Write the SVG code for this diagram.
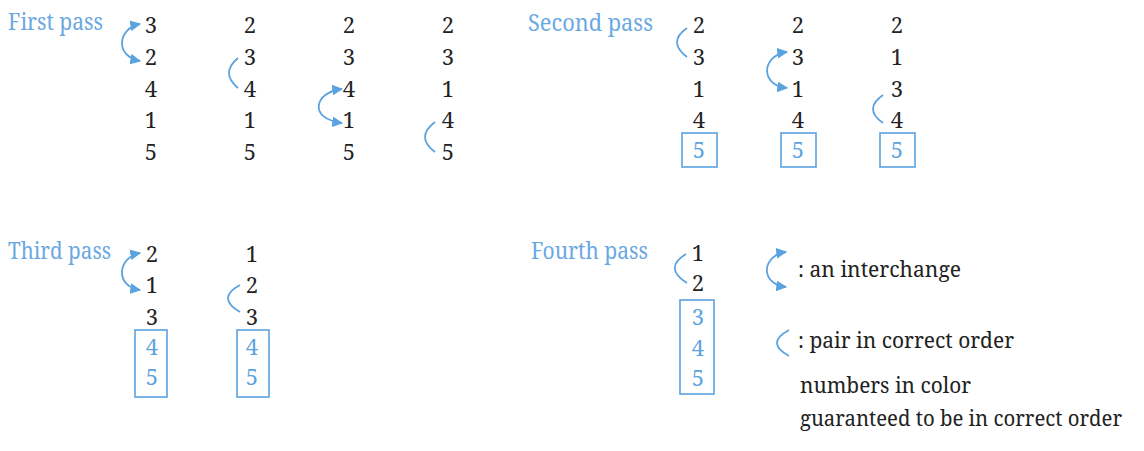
<svg xmlns="http://www.w3.org/2000/svg" width="1144" height="451" viewBox="0 0 1144 451">
<style>
text{font-family:"Noto Serif","DejaVu Serif",serif}
.lbl{font-size:23px;fill:#6aa8e2}
.d{font-size:22px;fill:#222;text-anchor:middle}
.db{font-size:22px;fill:#5aa2e0;text-anchor:middle}
.t{font-size:21.5px;fill:#222}
.box{fill:none;stroke:#5aa2e0;stroke-width:1.6}
.sw{fill:none;stroke:#5aa2e0;stroke-width:1.8;marker-start:url(#ah);marker-end:url(#ah)}
.pr{fill:none;stroke:#5aa2e0;stroke-width:1.8}
</style>
<defs>
<marker id="ah" viewBox="0 0 10 10" refX="9" refY="5" markerWidth="6" markerHeight="6" orient="auto-start-reverse" markerUnits="strokeWidth">
<path d="M0,0 L10,5 L0,10 z" fill="#5aa2e0"/>
</marker>
</defs>
<rect width="1144" height="451" fill="#fff"/>

<g id="first-pass">
<text class="lbl" x="8" y="30" textLength="95" lengthAdjust="spacingAndGlyphs">First pass</text>
<text class="d" x="151" y="33">3</text><text class="d" x="151" y="65">2</text><text class="d" x="151" y="97">4</text><text class="d" x="151" y="128">1</text><text class="d" x="151" y="160">5</text>
<text class="d" x="250" y="33">2</text><text class="d" x="250" y="65">3</text><text class="d" x="250" y="97">4</text><text class="d" x="250" y="128">1</text><text class="d" x="250" y="160">5</text>
<text class="d" x="349" y="33">2</text><text class="d" x="349" y="65">3</text><text class="d" x="349" y="97">4</text><text class="d" x="349" y="128">1</text><text class="d" x="349" y="160">5</text>
<text class="d" x="448" y="33">2</text><text class="d" x="448" y="65">3</text><text class="d" x="448" y="97">1</text><text class="d" x="448" y="128">4</text><text class="d" x="448" y="160">5</text>
</g>

<g id="second-pass">
<text class="lbl" x="528" y="31" textLength="125" lengthAdjust="spacingAndGlyphs">Second pass</text>
<text class="d" x="699" y="33">2</text><text class="d" x="699" y="65">3</text><text class="d" x="699" y="97">1</text><text class="d" x="699" y="128">4</text><text class="db" x="699" y="158">5</text>
<rect class="box" x="682" y="133" width="35" height="34"/>
<text class="d" x="798" y="33">2</text><text class="d" x="798" y="65">3</text><text class="d" x="798" y="97">1</text><text class="d" x="798" y="128">4</text><text class="db" x="798" y="158">5</text>
<rect class="box" x="781" y="133" width="35" height="34"/>
<text class="d" x="897" y="33">2</text><text class="d" x="897" y="65">1</text><text class="d" x="897" y="97">3</text><text class="d" x="897" y="128">4</text><text class="db" x="897" y="158">5</text>
<rect class="box" x="880" y="133" width="35" height="34"/>
</g>

<g id="third-pass">
<text class="lbl" x="8" y="259" textLength="103" lengthAdjust="spacingAndGlyphs">Third pass</text>
<text class="d" x="152" y="262">2</text><text class="d" x="152" y="293">1</text><text class="d" x="152" y="325">3</text><text class="db" x="152" y="355">4</text><text class="db" x="152" y="385">5</text>
<rect class="box" x="135" y="330" width="32" height="67"/>
<text class="d" x="252" y="262">1</text><text class="d" x="252" y="293">2</text><text class="d" x="252" y="325">3</text><text class="db" x="252" y="355">4</text><text class="db" x="252" y="385">5</text>
<rect class="box" x="237" y="330" width="32" height="67"/>
</g>

<g id="fourth-pass">
<text class="lbl" x="531" y="259" textLength="117" lengthAdjust="spacingAndGlyphs">Fourth pass</text>
<text class="d" x="698" y="261" font-size="20">1</text><text class="d" x="698" y="291" font-size="20">2</text>
<text class="db" x="698" y="325">3</text><text class="db" x="698" y="356">4</text><text class="db" x="698" y="386">5</text>
<rect class="box" x="680" y="300" width="34" height="94"/>
</g>

<g id="legend">
<text class="t" x="798" y="277" textLength="163" lengthAdjust="spacingAndGlyphs">: an interchange</text>
<text class="t" x="798" y="348" textLength="216" lengthAdjust="spacingAndGlyphs">: pair in correct order</text>
<text class="t" x="800" y="393" textLength="171" lengthAdjust="spacingAndGlyphs">numbers in color</text>
<text class="t" x="800" y="426" textLength="322" lengthAdjust="spacingAndGlyphs">guaranteed to be in correct order</text>
</g>

<g id="connectors">
<path class="sw" d="M140,24 C118,28 114,56 140,61"/>
<path class="sw" d="M342,89 C314,92 308,119 342,123"/>
<path class="sw" d="M787,52 C762,55 759,85 787,88"/>
<path class="sw" d="M140,253 C118,257 114,286 140,290"/>
<path class="sw" d="M786,252 C762,255 759,284 786,287"/>
<path class="pr" d="M238,58 Q220,73 238,88"/>
<path class="pr" d="M435,122 Q415,137 435,152"/>
<path class="pr" d="M687,28 Q667,42 687,57"/>
<path class="pr" d="M883,95 Q863,109 883,123"/>
<path class="pr" d="M240,285 Q216,298 240,312"/>
<path class="pr" d="M686,254 Q663,268 687,283"/>
<path class="pr" d="M789,330 Q765,343 789,356"/>
</g>
</svg>
